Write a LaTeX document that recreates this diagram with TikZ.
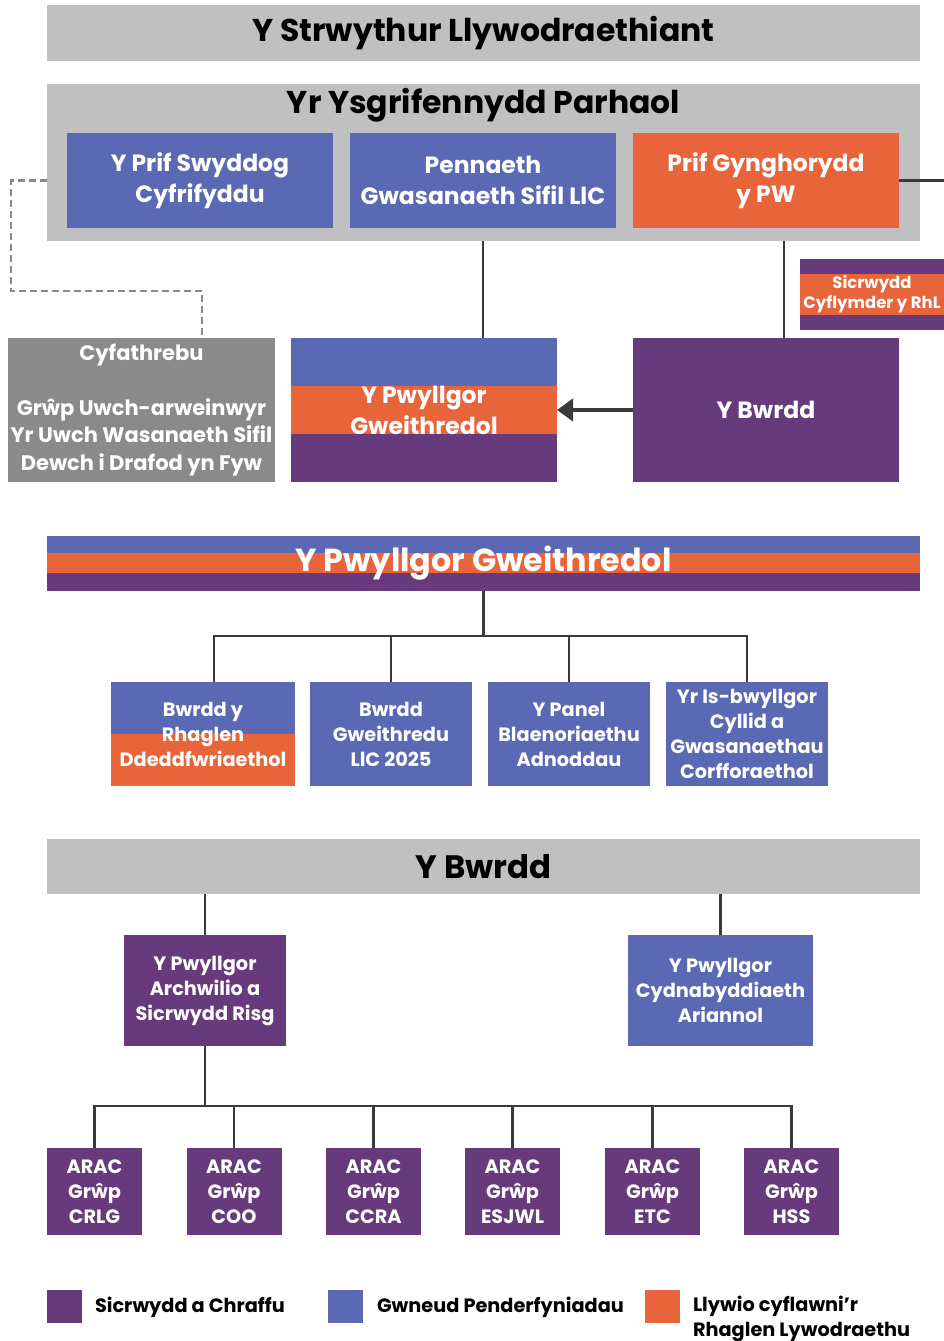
\documentclass[tikz,border=0pt]{standalone}
\usepackage{fontspec}
\setmainfont{Poppins}
\usepackage{xcolor}
\usepackage{tikz}
\usetikzlibrary{positioning,calc,arrows.meta}

\definecolor{govBlue}{HTML}{5B69B5}
\definecolor{govOrange}{HTML}{E8643A}
\definecolor{govPurple}{HTML}{673A7B}
\definecolor{barGrey}{HTML}{C0C0C0}
\definecolor{commsGrey}{HTML}{8A8A8A}
\definecolor{lineGrey}{HTML}{3A3A3A}

\begin{document}
\begin{tikzpicture}
[x=1pt, y=-1pt, font=\bfseries,
    every node/.style={rectangle, inner sep=0pt, outer sep=0pt, align=center},
    bar/.style={fill=barGrey, minimum width=873pt, minimum height=56pt,
        font=\fontsize{31.5}{36}\selectfont\bfseries},
    unit/.style={text=white, font=\fontsize{23.5}{31}\selectfont\bfseries},
    group/.style={text=white, font=\fontsize{19.3}{25}\selectfont\bfseries},
    decide/.style={fill=govBlue},
    steer/.style={fill=govOrange},
    scrutiny/.style={fill=govPurple},
    tricolour/.style n args={3}{fill=govPurple, path picture={
        \fill[#1] (path picture bounding box.north west) rectangle
            ($(path picture bounding box.north east)!#2!(path picture bounding box.south east)$);
        \fill[govOrange] ($(path picture bounding box.north west)!#2!(path picture bounding box.south west)$)
            rectangle ($(path picture bounding box.north east)!#3!(path picture bounding box.south east)$);}},
    link/.style={draw=lineGrey, line width=2.5pt},
    commslink/.style={draw=commsGrey, line width=2.5pt, dash pattern=on 7pt off 4pt},
    key/.style={minimum width=35pt, minimum height=33pt},
    keytext/.style={anchor=west, align=left, font=\fontsize{19.3}{25}\selectfont\bfseries}
    ]
    \useasboundingbox (0,0) rectangle (944,1341);

    % Y Strwythur / Yr Ysgrifennydd Parhaol
    \node[bar] (title) at (483.5,33) {Y Strwythur Llywodraethiant};
    \node[bar, minimum height=157pt] (ps) at (483.5,162.5) {};
    \node[font=\fontsize{31.5}{36}\selectfont\bfseries] (pstitle) at (483.5,105) {Yr Ysgrifennydd Parhaol};
    \node[unit, decide, minimum width=266pt, minimum height=95pt] (pcao) at (200,180.5) {Y Prif Swyddog\\Cyfrifyddu};
    \node[unit, decide, minimum width=266pt, minimum height=95pt] (hcs) at (483,180.5) {Pennaeth\\Gwasanaeth Sifil LlC};
    \node[unit, steer, minimum width=266pt, minimum height=95pt] (pa) at (766,180.5) {Prif Gynghorydd\\y PW};
    \node[tricolour={govPurple}{0.21}{0.79}, text=white, minimum width=144pt, minimum height=71pt,
        font=\fontsize{16.5}{20}\selectfont\bfseries] (pace) at (872,294.5) {Sicrwydd\\Cyflymder y RhL};

    \node[unit, fill=commsGrey, minimum width=267pt, minimum height=144pt,
        font=\fontsize{21}{27.5}\selectfont\bfseries] (comms) at (141.5,410)
        {Cyfathrebu\\[27.5pt]Grŵp Uwch-arweinwyr\\Yr Uwch Wasanaeth Sifil\\Dewch i Drafod yn Fyw};
    \node[unit, tricolour={govBlue}{0.3333}{0.6667}, minimum width=266pt, minimum height=144pt] (exco) at (424,410)
        {Y Pwyllgor\\Gweithredol};
    \node[unit, scrutiny, minimum width=266pt, minimum height=144pt] (board) at (766,410) {Y Bwrdd};

    \coordinate (offright) at (944,180.5);
    \coordinate (c1) at (11,291);
    \draw[commslink] (ps.west |- pcao) -| (c1) -| ([xshift=60.5pt]comms.north);
    \draw[link] (pa.east) -- (offright);
    \draw[link] (ps.south -| hcs) -- (exco.north -| hcs);
    \draw[link] ([xshift=18pt]ps.south -| pa) -- ([xshift=18pt]board.north);
    \draw[draw=lineGrey, line width=4pt, -{Triangle[length=16pt, width=22pt]}] (board.west) -- (exco.east);

    % Y Pwyllgor Gweithredol
    \node[tricolour={govBlue}{0.31}{0.67}, text=white, minimum width=873pt, minimum height=55pt,
        font=\fontsize{31.8}{36}\selectfont\bfseries] (exbar) at (483.5,563.5) {Y Pwyllgor Gweithredol};
    \node[group, tricolour={govBlue}{0.5}{1}, minimum width=184pt, minimum height=104pt] (lpb) at (203,734)
        {Bwrdd y\\Rhaglen\\Ddeddfwriaethol};
    \node[group, decide, minimum width=162pt, minimum height=104pt] (wg) at (391,734) {Bwrdd\\Gweithredu\\LlC 2025};
    \node[group, decide, minimum width=162pt, minimum height=104pt] (rp) at (569,734) {Y Panel\\Blaenoriaethu\\Adnoddau};
    \node[group, decide, minimum width=162pt, minimum height=104pt] (fin) at (747,734)
        {Yr Is-bwyllgor\\Cyllid a\\Gwasanaethau\\Corfforaethol};

    \coordinate (j1) at (483.5,636);
    \draw[link] (exbar.south) -- (j1);
    \draw[link] ([xshift=11pt]lpb.north) |- (j1) -| (fin.north);
    \draw[link] (wg.north) -- (wg.north |- j1);
    \draw[link] (rp.north) -- (rp.north |- j1);

    % Y Bwrdd
    \node[bar, minimum height=55pt, font=\fontsize{32.4}{36}\selectfont\bfseries] (boardbar) at (483.5,866.5) {Y Bwrdd};
    \node[group, scrutiny, minimum width=162pt, minimum height=111pt] (arac) at (205,990.5)
        {Y Pwyllgor\\Archwilio a\\Sicrwydd Risg};
    \node[group, decide, minimum width=185pt, minimum height=111pt] (rem) at (720.5,990.5)
        {Y Pwyllgor\\Cydnabyddiaeth\\Ariannol};
    \draw[link] (boardbar.south -| arac) -- (arac.north);
    \draw[link] (boardbar.south -| rem) -- (rem.north);

    \foreach \name/\x in {crlg/94.5, coo/234, ccra/373.5, esjwl/512.5, etc/652.5, hss/791.5}
        \node[group, scrutiny, minimum width=95pt, minimum height=87pt] (\name) at (\x,1191.5) {};
    \node[group] at (crlg) {ARAC\\Grŵp\\CRLG};
    \node[group] at (coo) {ARAC\\Grŵp\\COO};
    \node[group] at (ccra) {ARAC\\Grŵp\\CCRA};
    \node[group] at (esjwl) {ARAC\\Grŵp\\ESJWL};
    \node[group] at (etc) {ARAC\\Grŵp\\ETC};
    \node[group] at (hss) {ARAC\\Grŵp\\HSS};

    \coordinate (j2) at (205,1106);
    \draw[link] (arac.south) -- (j2);
    \draw[link] (crlg.north) |- (j2) -| (hss.north);
    \foreach \name in {coo, ccra, esjwl, etc}
        \draw[link] (\name.north) -- (\name.north |- j2);

    % legend
    \node[key, scrutiny] (k1) at (64.5,1306.5) {};
    \node[keytext] (k1text) at (95,1307) {Sicrwydd a Chraffu};
    \node[key, decide] (k2) at (345.5,1306.5) {};
    \node[keytext] (k2text) at (377,1307) {Gwneud Penderfyniadau};
    \node[key, steer] (k3) at (662.5,1306.5) {};
    \node[keytext, anchor=north west] (k3text) at (693,1296) {Llywio cyflawni’r\\Rhaglen Lywodraethu};
\end{tikzpicture}
\end{document}
